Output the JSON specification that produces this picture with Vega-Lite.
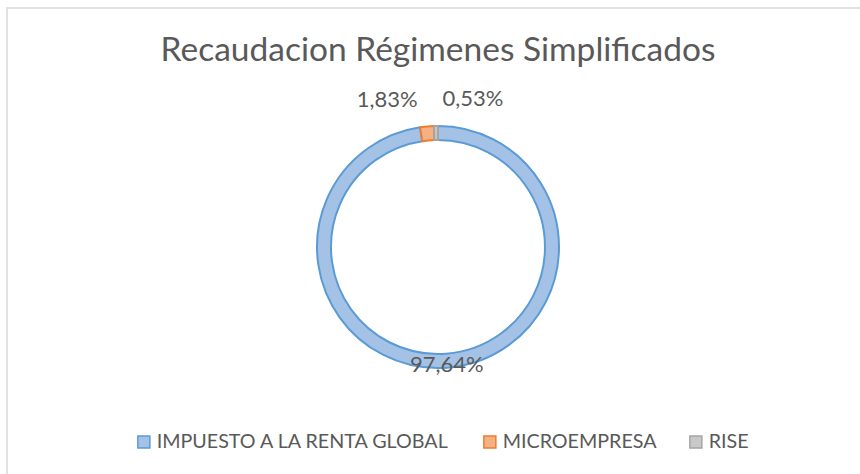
{
  "$schema": "https://vega.github.io/schema/vega-lite/v6.json",
  "width": 862,
  "height": 478,
  "autosize": {"type": "none"},
  "padding": {"left": 7, "top": 8, "right": -9, "bottom": -12},
  "background": "white",
  "view": {"stroke": "#d9d9d9", "strokeWidth": 1.5, "fill": "white"},
  "title": {
    "text": "Recaudacion  Régimenes Simplificados",
    "font": "Lato",
    "fontSize": 33.5,
    "fontWeight": "normal",
    "color": "#595959",
    "anchor": "middle",
    "baseline": "alphabetic",
    "offset": -86
  },
  "data": {
    "values": [
      {"regimen": "IMPUESTO A LA RENTA GLOBAL", "v": 0.9764, "orden": 1},
      {"regimen": "MICROEMPRESA", "v": 0.0183, "orden": 2},
      {"regimen": "RISE", "v": 0.0053, "orden": 3}
    ]
  },
  "encoding": {
    "theta": {"field": "v", "type": "quantitative", "stack": true},
    "order": {"field": "orden", "type": "quantitative", "sort": "ascending"}
  },
  "layer": [
    {
      "mark": {"type": "arc", "radius": 121, "innerRadius": 107, "strokeWidth": 2},
      "encoding": {
        "fill": {
          "field": "regimen", "type": "nominal",
          "scale": {"domain": ["IMPUESTO A LA RENTA GLOBAL", "MICROEMPRESA", "RISE"], "range": ["#a4c2e6", "#f4b183", "#c9c9c9"]},
          "legend": {
            "orient": "none", "legendX": 127, "legendY": 424, "direction": "horizontal", "title": null
          }
        },
        "stroke": {
          "field": "regimen", "type": "nominal",
          "scale": {"domain": ["IMPUESTO A LA RENTA GLOBAL", "MICROEMPRESA", "RISE"], "range": ["#5b9bd5", "#ed7d31", "#a5a5a5"]},
          "legend": {
            "orient": "none", "legendX": 127, "legendY": 424, "direction": "horizontal", "title": null
          }
        }
      }
    },
    {
      "mark": {"type": "text", "radius": 118, "font": "Lato", "fontSize": 22, "color": "#595959", "align": "center", "baseline": "middle"},
      "encoding": {
        "text": {"condition": {"test": "datum.orden === 1", "field": "v", "type": "quantitative", "format": ".2%"}, "value": ""}
      }
    },
    {
      "mark": {"type": "text", "radius": 148, "font": "Lato", "fontSize": 22, "color": "#595959", "align": "right", "baseline": "middle", "dx": -7},
      "encoding": {
        "text": {"condition": {"test": "datum.orden === 2", "field": "v", "type": "quantitative", "format": ".2%"}, "value": ""}
      }
    },
    {
      "mark": {"type": "text", "radius": 148, "font": "Lato", "fontSize": 22, "color": "#595959", "align": "left", "baseline": "middle", "dx": 7},
      "encoding": {
        "text": {"condition": {"test": "datum.orden === 3", "field": "v", "type": "quantitative", "format": ".2%"}, "value": ""}
      }
    }
  ],
  "config": {
    "locale": {"number": {"decimal": ",", "thousands": ".", "grouping": [3], "currency": ["", " €"]}},
    "legend": {
      "labelFont": "Lato", "labelFontSize": 19.7, "labelColor": "#595959", "labelLimit": 500,
      "symbolType": "square", "symbolSize": 144, "symbolStrokeWidth": 1.5,
      "columnPadding": 29, "labelOffset": 3
    }
  }
}
